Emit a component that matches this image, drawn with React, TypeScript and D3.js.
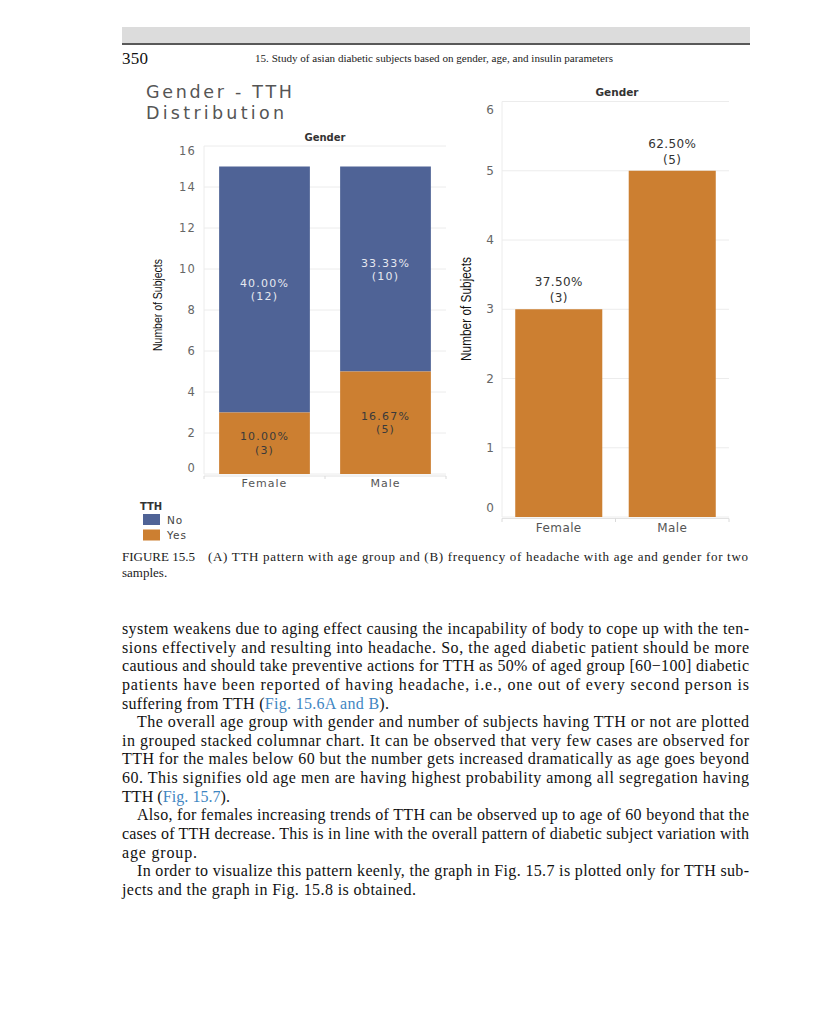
import React from "react";
import * as d3 from "d3";

// ---------- data ----------
const categories = ["Female", "Male"];
const tthNo = [12, 10];
const tthYes = [3, 5];
const leftTicks = [0, 2, 4, 6, 8, 10, 12, 14, 16];
const rightValues = [3, 5];
const rightTicks = [0, 1, 2, 3, 4, 5, 6];
const legendKeys = ["No", "Yes"];

const BLUE = "#4f6396";
const ORANGE = "#cc7f31";
const GRID = "#ececec";
const TICKTXT = "#666";

const bodyLines: { parts: { t: string; link?: boolean }[]; x: number; end: number }[] = [
  { parts: [{ t: "system weakens due to aging effect causing the incapability of body to cope up with the ten-" }], x: 122, end: 749 },
  { parts: [{ t: "sions effectively and resulting into headache. So, the aged diabetic patient should be more" }], x: 122, end: 749 },
  { parts: [{ t: "cautious and should take preventive actions for TTH as 50% of aged group [60\u2212100] diabetic" }], x: 122, end: 749 },
  { parts: [{ t: "patients have been reported of having headache, i.e., one out of every second person is" }], x: 122, end: 749 },
  { parts: [{ t: "suffering from TTH (" }, { t: "Fig. 15.6A and B", link: true }, { t: ")." }], x: 122, end: 389 },
  { parts: [{ t: "The overall age group with gender and number of subjects having TTH or not are plotted" }], x: 137, end: 749 },
  { parts: [{ t: "in grouped stacked columnar chart. It can be observed that very few cases are observed for" }], x: 122, end: 749 },
  { parts: [{ t: "TTH for the males below 60 but the number gets increased dramatically as age goes beyond" }], x: 122, end: 749 },
  { parts: [{ t: "60. This signifies old age men are having highest probability among all segregation having" }], x: 122, end: 749 },
  { parts: [{ t: "TTH (" }, { t: "Fig. 15.7", link: true }, { t: ")." }], x: 122, end: 230 },
  { parts: [{ t: "Also, for females increasing trends of TTH can be observed up to age of 60 beyond that the" }], x: 137, end: 749 },
  { parts: [{ t: "cases of TTH decrease. This is in line with the overall pattern of diabetic subject variation with" }], x: 122, end: 749 },
  { parts: [{ t: "age group." }], x: 122, end: 197 },
  { parts: [{ t: "In order to visualize this pattern keenly, the graph in Fig. 15.7 is plotted only for TTH sub-" }], x: 137, end: 749 },
  { parts: [{ t: "jects and the graph in Fig. 15.8 is obtained." }], x: 122, end: 416 },
];

const SERIF = "'Liberation Serif', 'Times New Roman', serif";
const TAB = "'DejaVu Sans', sans-serif";
const COND = "'Liberation Sans', Arial, sans-serif";

function LeftChart() {
  const total = d3.sum(tthNo) + d3.sum(tthYes);
  const pct = d3.format(".2%");
  const y = d3.scaleLinear().domain([0, 16]).range([474, 146]);
  const x = d3.scaleBand<string>().domain(categories).range([204, 446]).paddingInner(0.25).paddingOuter(0.125);
  const labelOffset = (v: number) => (v === 16 ? 5 : v === 0 ? -6 : 0);
  return (
    <g>
      <text x={146} y={98} fontFamily={TAB} fontSize={17.5} fill="#555" textLength={146} lengthAdjust="spacing">Gender - TTH</text>
      <text x={146} y={119} fontFamily={TAB} fontSize={17.5} fill="#555" textLength={138} lengthAdjust="spacing">Distribution</text>
      <text x={325} y={141} fontFamily={TAB} fontSize={10} fontWeight="bold" fill="#333" textAnchor="middle">Gender</text>
      {leftTicks.map((t) => (
        <line key={"g" + t} x1={204} x2={446} y1={y(t)} y2={y(t)} stroke={GRID} strokeWidth={1} />
      ))}
      <line x1={204} x2={204} y1={y(16)} y2={y(0)} stroke={GRID} />
      {leftTicks.map((t) => (
        <text key={"t" + t} x={196} y={y(t) + labelOffset(t)} dy="0.35em" fontFamily={TAB} fontSize={11.5} fill={TICKTXT} textAnchor="end" letterSpacing={1.2}>{t}</text>
      ))}
      {categories.map((c, i) => {
        const x0 = x(c)!;
        const w = x.bandwidth();
        const yYesTop = y(tthYes[i]);
        const yNoTop = y(tthYes[i] + tthNo[i]);
        const cx = x0 + w / 2;
        const cNo = (yYesTop + yNoTop) / 2;
        const cYes = (y(0) + yYesTop) / 2;
        return (
          <g key={c}>
            <rect x={x0} width={w} y={yNoTop} height={yYesTop - yNoTop} fill={BLUE} />
            <rect x={x0} width={w} y={yYesTop} height={y(0) - yYesTop} fill={ORANGE} />
            <text x={cx} y={cNo - 6} dy="0.35em" textAnchor="middle" fontFamily={TAB} fontSize={11} fill="#e6e8ef" letterSpacing={1.2}>{pct(tthNo[i] / total)}</text>
            <text x={cx} y={cNo + 7} dy="0.35em" textAnchor="middle" fontFamily={TAB} fontSize={11} fill="#e6e8ef" letterSpacing={1.2}>({tthNo[i]})</text>
            <text x={cx} y={cYes - 7} dy="0.35em" textAnchor="middle" fontFamily={TAB} fontSize={11} fill="#3a3a3a" letterSpacing={1.2}>{pct(tthYes[i] / total)}</text>
            <text x={cx} y={cYes + 6.5} dy="0.35em" textAnchor="middle" fontFamily={TAB} fontSize={11} fill="#3a3a3a" letterSpacing={1.2}>({tthYes[i]})</text>
            <text x={cx} y={483} dy="0.35em" textAnchor="middle" fontFamily={TAB} fontSize={11} fill="#555" letterSpacing={1}>{c}</text>
          </g>
        );
      })}
      <line x1={204} x2={446} y1={476} y2={476} stroke="#e2e2e2" />
      {[204, 325, 446].map((tx) => (
        <line key={tx} x1={tx} x2={tx} y1={476} y2={479} stroke="#dadada" />
      ))}
      <text transform="translate(162,305) rotate(-90)" textAnchor="middle" fontFamily={COND} fontSize={13} fontWeight={500} fill="#111" textLength={92} lengthAdjust="spacingAndGlyphs">Number of Subjects</text>
      {/* legend */}
      <text x={140} y={506} dy="0.35em" fontFamily={TAB} fontSize={10} fontWeight="bold" fill="#333">TTH</text>
      {legendKeys.map((k, i) => (
        <g key={k}>
          <rect x={143} y={514 + i * 15.5} width={17} height={11} fill={i === 0 ? BLUE : ORANGE} />
          <text x={167} y={520 + i * 15.5} dy="0.35em" fontFamily={TAB} fontSize={10.5} fill="#444" letterSpacing={1}>{k}</text>
        </g>
      ))}
    </g>
  );
}

function RightChart() {
  const total = d3.sum(rightValues);
  const pct = d3.format(".2%");
  const y = d3.scaleLinear().domain([0, 6]).range([517, 101.5]);
  const x = d3.scaleBand<string>().domain(categories).range([502, 729]).paddingInner(0.233).paddingOuter(0.1167);
  const labelOffset = (v: number) => (v === 6 ? 8 : v === 0 ? -9 : 0);
  return (
    <g>
      <text x={617} y={96} fontFamily={TAB} fontSize={10.5} fontWeight="bold" fill="#333" textAnchor="middle">Gender</text>
      {rightTicks.map((t) => (
        <line key={"g" + t} x1={502} x2={729} y1={y(t)} y2={y(t)} stroke={GRID} />
      ))}
      <line x1={502} x2={502} y1={y(6)} y2={y(0)} stroke={GRID} />
      {rightTicks.map((t) => (
        <text key={"t" + t} x={494} y={y(t) + labelOffset(t)} dy="0.35em" fontFamily={TAB} fontSize={12} fill={TICKTXT} textAnchor="end">{t}</text>
      ))}
      {categories.map((c, i) => {
        const x0 = x(c)!;
        const w = x.bandwidth();
        const top = y(rightValues[i]);
        const cx = x0 + w / 2;
        return (
          <g key={c}>
            <rect x={x0} width={w} y={top} height={y(0) - top} fill={ORANGE} />
            <text x={cx} y={top - 27} dy="0.35em" textAnchor="middle" fontFamily={TAB} fontSize={12} fill="#333" letterSpacing={0.4}>{pct(rightValues[i] / total)}</text>
            <text x={cx} y={top - 11} dy="0.35em" textAnchor="middle" fontFamily={TAB} fontSize={12} fill="#333" letterSpacing={0.4}>({rightValues[i]})</text>
            <text x={cx} y={528} dy="0.35em" textAnchor="middle" fontFamily={TAB} fontSize={12} fill="#555" letterSpacing={0.4}>{c}</text>
          </g>
        );
      })}
      <line x1={502} x2={729} y1={518.5} y2={518.5} stroke="#e2e2e2" />
      {[502, 615.5, 729].map((tx) => (
        <line key={tx} x1={tx} x2={tx} y1={518.5} y2={522} stroke="#dadada" />
      ))}
      <text transform="translate(471,309) rotate(-90)" textAnchor="middle" fontFamily={COND} fontSize={14} fontWeight={500} fill="#111" textLength={104} lengthAdjust="spacingAndGlyphs">Number of Subjects</text>
    </g>
  );
}

export default function App() {
  return (
    <svg width={830} height={1024} style={{ position: "absolute", left: 0, top: 0, background: "#fff" }}>
      <rect x={0} y={0} width={830} height={1024} fill="#fff" />
      {/* running header */}
      <rect x={122} y={27} width={628} height={16} fill="#dcdcdc" />
      <line x1={122} x2={750} y1={44} y2={44} stroke="#222" strokeWidth={1.6} />
      <text x={122} y={64} fontFamily={SERIF} fontSize={17} fill="#111" textLength={26}>350</text>
      <text x={255} y={62} fontFamily={SERIF} fontSize={10} fill="#222" textLength={358} lengthAdjust="spacingAndGlyphs">15. Study of asian diabetic subjects based on gender, age, and insulin parameters</text>

      <LeftChart />
      <RightChart />

      {/* caption */}
      <text x={122} y={561} fontFamily={SERIF} fontSize={13} fill="#1a1a1a" textLength={73} lengthAdjust="spacingAndGlyphs">FIGURE 15.5</text>
      <text x={208} y={561} fontFamily={SERIF} fontSize={13} fill="#1a1a1a" textLength={540} lengthAdjust="spacing">(A) TTH pattern with age group and (B) frequency of headache with age and gender for two</text>
      <text x={122} y={577} fontFamily={SERIF} fontSize={13} fill="#1a1a1a">samples.</text>

      {/* body text */}
      {bodyLines.map((ln, i) => (
        <text key={i} x={ln.x} y={634 + i * 18.64} fontFamily={SERIF} fontSize={16} fill="#111"
          textLength={ln.end - ln.x} lengthAdjust="spacing">
          {ln.parts.map((p, j) => (
            <tspan key={j} fill={p.link ? "#3f86c2" : "#111"}>{p.t}</tspan>
          ))}
        </text>
      ))}
    </svg>
  );
}
